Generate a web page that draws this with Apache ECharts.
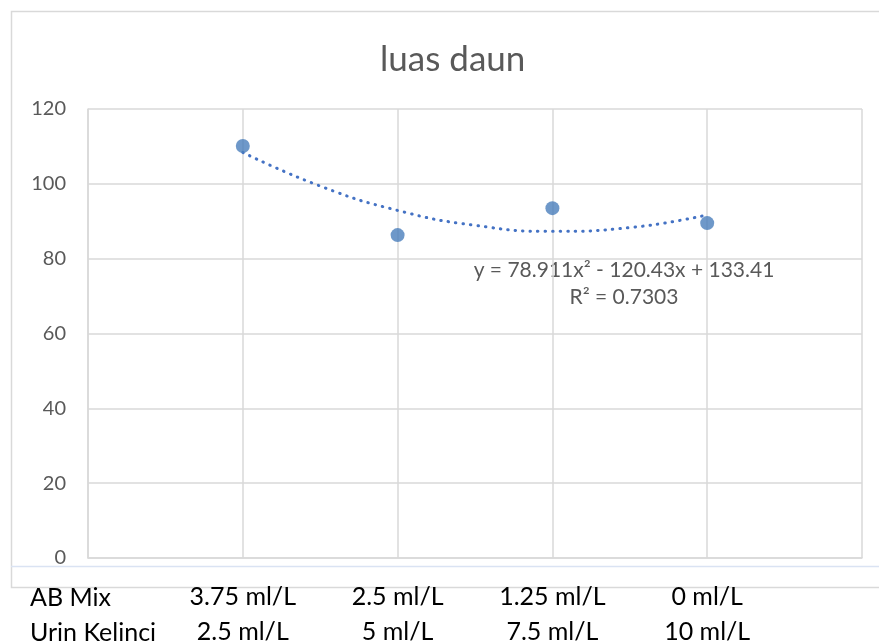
<!DOCTYPE html>
<html>
<head>
<meta charset="utf-8">
<script src="https://cdn.jsdelivr.net/npm/echarts@6/dist/echarts.min.js"></script>
<style>
html,body{margin:0;padding:0;background:#fff;}
#c{width:879px;height:644px;}
</style>
</head>
<body>
<div id="c"></div>
<script>
// Data
var titleText = 'luas daun';
var abMix = ['3.75 ml/L', '2.5 ml/L', '1.25 ml/L', '0 ml/L'];
var urinKelinci = ['2.5 ml/L', '5 ml/L', '7.5 ml/L', '10 ml/L'];
var rowHeaders = ['AB Mix', 'Urin Kelinci'];
var positions = [1, 2, 3, 4];
var luasDaun = [110.1, 86.3, 93.5, 89.5];
// trendline
var trendX = [1, 1.5, 2, 2.5, 3, 3.5, 4];
var trendY = [108.4, 99.4, 92.9, 88.9, 87.3, 88.3, 91.7];
var equationText = 'y = 78.911x\u00B2 - 120.43x + 133.41';
var r2Text = 'R\u00B2 = 0.7303';
var yTicks = [0, 20, 40, 60, 80, 100, 120];

var FONT = 'Lato, "Open Sans", sans-serif';
var chart = echarts.init(document.getElementById('c'), null, {renderer: 'canvas'});

var pointData = positions.map(function (p, i) { return [p, luasDaun[i]]; });
var trendData = trendX.map(function (x, i) { return [x, trendY[i]]; });

chart.setOption({
  animation: false,
  backgroundColor: '#ffffff',
  title: {
    text: titleText,
    left: 375,
    top: 37,
    textStyle: {fontFamily: FONT, fontSize: 35, fontWeight: 'normal', color: '#595959'}
  },
  grid: {left: 88, right: 17, top: 109, bottom: 86, outerBoundsMode: 'none', containLabel: false},
  xAxis: {
    type: 'value',
    min: 0, max: 5, interval: 1,
    axisLine: {show: true, lineStyle: {color: '#d9d9d9', width: 1.5}},
    axisTick: {show: false},
    splitLine: {show: true, lineStyle: {color: '#d9d9d9', width: 1.5}},
    axisLabel: {
      show: true,
      margin: 21,
      fontFamily: FONT,
      fontSize: 25,
      color: '#000000',
      lineHeight: 35,
      formatter: function (v) {
        var i = positions.indexOf(v);
        if (i < 0) return '';
        return abMix[i] + '\n' + urinKelinci[i];
      }
    }
  },
  yAxis: {
    type: 'value',
    min: 0, max: 120, interval: 20,
    axisLine: {show: true, lineStyle: {color: '#d9d9d9', width: 1.5}},
    axisTick: {show: false},
    splitLine: {show: true, lineStyle: {color: '#d9d9d9', width: 1.5}},
    axisLabel: {
      margin: 22,
      fontFamily: FONT,
      fontSize: 20,
      color: '#595959',
      formatter: function (v) { return yTicks.indexOf(v) >= 0 ? String(v) : ''; }
    }
  },
  graphic: [
    {type: 'rect', silent: true, z: -10, shape: {x: 11.5, y: 11.5, width: 900, height: 576},
     style: {fill: 'none', stroke: '#d9d9d9', lineWidth: 1.5}},
    {type: 'line', silent: true, z: -5, shape: {x1: 11, y1: 566.5, x2: 879, y2: 566.5},
     style: {stroke: '#dae3f3', lineWidth: 1.5}},
    {type: 'text', left: 30, top: 585, silent: true,
     style: {text: rowHeaders[0], font: '25px ' + FONT, fill: '#000000'}},
    {type: 'text', left: 30, top: 620, silent: true,
     style: {text: rowHeaders[1], font: '25px ' + FONT, fill: '#000000'}},
    {type: 'text', x: 624, y: 270, silent: true,
     style: {text: equationText, font: '21px ' + FONT, fill: '#595959', align: 'center', verticalAlign: 'middle'}},
    {type: 'text', x: 624, y: 297, silent: true,
     style: {text: r2Text, font: '21px ' + FONT, fill: '#595959', align: 'center', verticalAlign: 'middle'}}
  ],
  series: [
    {
      name: 'trend',
      type: 'line',
      data: trendData,
      smooth: true,
      showSymbol: false,
      symbol: 'none',
      lineStyle: {color: '#4472c4', width: 3, type: [0.5, 7], cap: 'round'},
      z: 2
    },
    {
      name: 'luas daun',
      type: 'scatter',
      data: pointData,
      symbol: 'circle',
      symbolSize: 14,
      itemStyle: {color: '#4a7ebb'},
      z: 3
    }
  ]
});
</script>
</body>
</html>
